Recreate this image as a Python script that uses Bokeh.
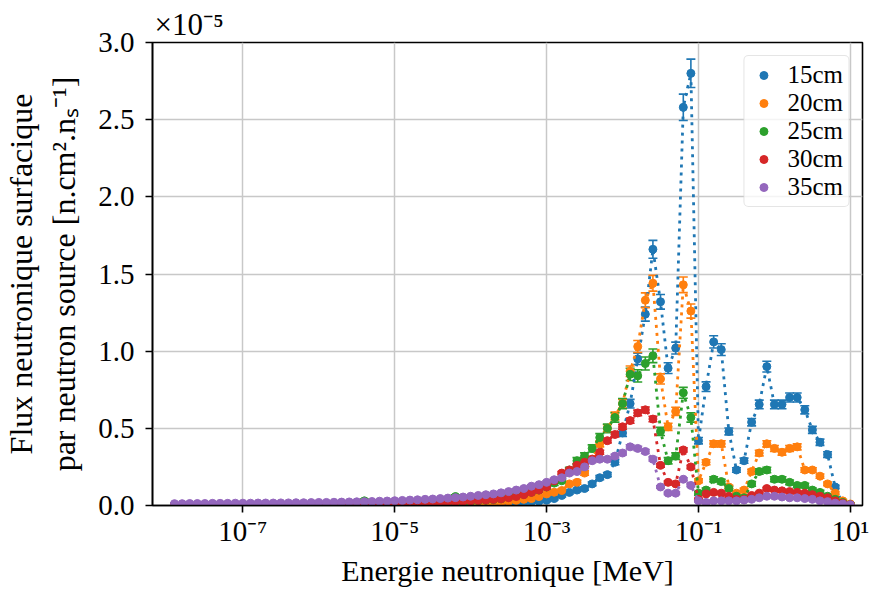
from bokeh.plotting import figure
from bokeh.models import (FixedTicker, CustomJSTickFormatter, Legend, LegendItem,
                          Range1d, PrintfTickFormatter)
from bokeh.embed import file_html
from bokeh.resources import INLINE

# ---------------- data (flux in units of 1e-5) ----------------
log_energy = [
    -7.9, -7.8, -7.7, -7.6, -7.5, -7.4, -7.3, -7.2, -7.1, -7.0,
    -6.9, -6.8, -6.7, -6.6, -6.5, -6.4, -6.3, -6.2, -6.1, -6.0,
    -5.9, -5.8, -5.7, -5.6, -5.5, -5.4, -5.3, -5.2, -5.1, -5.0,
    -4.9, -4.8, -4.7, -4.6, -4.5, -4.4, -4.3, -4.2, -4.1, -4.0,
    -3.9, -3.8, -3.7, -3.6, -3.5, -3.4, -3.3, -3.2, -3.1, -3.0,
    -2.9, -2.8, -2.7, -2.6, -2.5, -2.4, -2.3, -2.2, -2.1, -2.0,
    -1.9, -1.8, -1.7, -1.6, -1.5, -1.4, -1.3, -1.2, -1.1, -1.0,
    -0.9, -0.8, -0.7, -0.6, -0.5, -0.4, -0.3, -0.2, -0.1, 0.0,
    0.1, 0.2, 0.3, 0.4, 0.5, 0.6, 0.7, 0.8, 0.9, 1.0,
]

flux_15cm = [
    0.001, 0.001, 0.001, 0.001, 0.001, 0.001, 0.001, 0.001, 0.001, 0.001,
    0.001, 0.001, 0.001, 0.001, 0.001, 0.002, 0.002, 0.002, 0.002, 0.002,
    0.002, 0.002, 0.002, 0.002, 0.002, 0.003, 0.003, 0.003, 0.003, 0.003,
    0.003, 0.003, 0.004, 0.004, 0.004, 0.005, 0.005, 0.005, 0.006, 0.006,
    0.007, 0.008, 0.009, 0.011, 0.013, 0.016, 0.020, 0.024, 0.028, 0.034,
    0.045, 0.065, 0.085, 0.10, 0.11, 0.14, 0.18, 0.20, 0.28, 0.47,
    0.66, 0.95, 1.24, 1.66, 1.32, 0.89, 1.02, 2.58, 2.80, 0.42,
    0.77, 1.06, 1.01, 0.48, 0.23, 0.29, 0.54, 0.655, 0.90, 0.655,
    0.655, 0.70, 0.70, 0.62, 0.49, 0.41, 0.33, 0.12, 0.01, 0.0,
]
flux_20cm = [
    0.001, 0.001, 0.001, 0.001, 0.001, 0.001, 0.002, 0.002, 0.002, 0.002,
    0.002, 0.002, 0.002, 0.002, 0.002, 0.003, 0.003, 0.003, 0.003, 0.003,
    0.003, 0.004, 0.004, 0.004, 0.004, 0.005, 0.005, 0.005, 0.006, 0.006,
    0.006, 0.007, 0.007, 0.008, 0.008, 0.009, 0.010, 0.011, 0.012, 0.014,
    0.015, 0.017, 0.019, 0.022, 0.027, 0.033, 0.040, 0.045, 0.058, 0.075,
    0.086, 0.097, 0.14, 0.15, 0.21, 0.30, 0.40, 0.50, 0.58, 0.66,
    0.87, 1.03, 1.33, 1.44, 0.82, 0.51, 0.61, 1.43, 1.26, 0.16,
    0.28, 0.40, 0.40, 0.12, 0.08, 0.10, 0.22, 0.34, 0.40, 0.37,
    0.345, 0.37, 0.38, 0.23, 0.23, 0.19, 0.14, 0.08, 0.03, 0.01,
]
flux_25cm = [
    0.002, 0.002, 0.002, 0.002, 0.002, 0.003, 0.003, 0.003, 0.003, 0.003,
    0.003, 0.003, 0.004, 0.004, 0.004, 0.004, 0.005, 0.005, 0.005, 0.005,
    0.006, 0.006, 0.006, 0.007, 0.007, 0.030, 0.008, 0.008, 0.009, 0.009,
    0.010, 0.011, 0.011, 0.012, 0.013, 0.014, 0.015, 0.058, 0.019, 0.024,
    0.030, 0.034, 0.038, 0.043, 0.054, 0.062, 0.072, 0.086, 0.10, 0.12,
    0.145, 0.16, 0.23, 0.29, 0.32, 0.37, 0.44, 0.50, 0.57, 0.66,
    0.85, 0.84, 0.92, 0.97, 0.48, 0.29, 0.32, 0.73, 0.57, 0.08,
    0.10, 0.17, 0.155, 0.11, 0.06, 0.05, 0.14, 0.22, 0.23, 0.17,
    0.17, 0.15, 0.13, 0.13, 0.10, 0.085, 0.06, 0.04, 0.02, 0.005,
]
flux_30cm = [
    0.003, 0.003, 0.003, 0.003, 0.004, 0.004, 0.004, 0.004, 0.004, 0.005,
    0.005, 0.005, 0.005, 0.006, 0.006, 0.006, 0.007, 0.007, 0.007, 0.008,
    0.008, 0.009, 0.009, 0.010, 0.011, 0.011, 0.012, 0.013, 0.014, 0.015,
    0.016, 0.017, 0.018, 0.019, 0.020, 0.022, 0.023, 0.025, 0.027, 0.029,
    0.032, 0.035, 0.039, 0.043, 0.050, 0.058, 0.070, 0.085, 0.10, 0.12,
    0.16, 0.21, 0.23, 0.26, 0.28, 0.30, 0.345, 0.42, 0.46, 0.51,
    0.55, 0.60, 0.62, 0.56, 0.26, 0.15, 0.14, 0.36, 0.25, 0.04,
    0.075, 0.085, 0.08, 0.06, 0.04, 0.04, 0.065, 0.08, 0.11, 0.10,
    0.095, 0.09, 0.085, 0.08, 0.07, 0.06, 0.05, 0.03, 0.015, 0.005,
]
flux_35cm = [
    0.012, 0.012, 0.013, 0.013, 0.013, 0.014, 0.014, 0.014, 0.015, 0.015,
    0.015, 0.016, 0.016, 0.016, 0.017, 0.017, 0.018, 0.018, 0.019, 0.020,
    0.020, 0.021, 0.022, 0.023, 0.024, 0.025, 0.026, 0.028, 0.029, 0.031,
    0.033, 0.035, 0.037, 0.040, 0.042, 0.045, 0.048, 0.051, 0.055, 0.060,
    0.065, 0.070, 0.075, 0.082, 0.090, 0.10, 0.11, 0.125, 0.135, 0.15,
    0.167, 0.18, 0.21, 0.22, 0.25, 0.29, 0.30, 0.30, 0.32, 0.34,
    0.38, 0.37, 0.35, 0.30, 0.12, 0.08, 0.08, 0.17, 0.13, 0.03,
    0.02, 0.03, 0.03, 0.03, 0.03, 0.035, 0.04, 0.05, 0.06, 0.06,
    0.055, 0.05, 0.05, 0.045, 0.04, 0.03, 0.025, 0.015, 0.01, 0.005,
]

series_labels = ["15cm", "20cm", "25cm", "30cm", "35cm"]
series_values = [flux_15cm, flux_20cm, flux_25cm, flux_30cm, flux_35cm]
colors = ["#1f77b4", "#ff7f0e", "#2ca02c", "#d62728", "#9467bd"]
# uncertainty: relative part + absolute floor
rel_err = [0.03, 0.03, 0.035, 0.02, 0.02]
abs_err = [0.008, 0.008, 0.010, 0.006, 0.006]

x_ticks = [1e-7, 1e-5, 1e-3, 1e-1, 1e1]
y_ticks = [0.0, 0.5, 1.0, 1.5, 2.0, 2.5, 3.0]
x_limits_log = [-8.19, 1.16]
y_limits = [0.0, 3.0]
scale_text = "\u00d710\u207b\u2075"

FONT = "Liberation Serif"

energy = [10 ** v for v in log_energy]

p = figure(width=871, height=589, x_axis_type="log",
           x_range=Range1d(10 ** x_limits_log[0], 10 ** x_limits_log[1]),
           y_range=Range1d(y_limits[0], y_limits[1]),
           output_backend="svg", toolbar_location=None,
           title=scale_text,
           min_border_left=150, min_border_right=9,
           min_border_top=42, min_border_bottom=84)

p.background_fill_color = "white"
p.border_fill_color = "white"
p.outline_line_color = "black"
p.outline_line_width = 1.6
p.outline_line_alpha = 1.0

# scale factor shown as a left-aligned title just above the frame
p.title.text_font = FONT
p.title.text_font_size = "31px"
p.title.text_font_style = "normal"
p.title.text_color = "black"
p.title.align = "left"
p.title.offset = 2
p.title.standoff = 1
p.title.vertical_align = "bottom"

p.xaxis.ticker = FixedTicker(ticks=x_ticks, minor_ticks=[])
p.yaxis.ticker = FixedTicker(ticks=y_ticks, minor_ticks=[])
p.xaxis.formatter = CustomJSTickFormatter(code=r"""
const sup = {"-": "\u207b", "0": "\u2070", "1": "\u00b9", "2": "\u00b2", "3": "\u00b3",
             "4": "\u2074", "5": "\u2075", "6": "\u2076", "7": "\u2077", "8": "\u2078", "9": "\u2079"};
const e = Math.round(Math.log10(tick));
return "10" + String(e).split("").map(c => sup[c]).join("");
""")
p.yaxis.formatter = PrintfTickFormatter(format="%.1f")

for ax in (p.xaxis, p.yaxis):
    ax.axis_line_color = "black"
    ax.axis_line_width = 1.6
    ax.major_tick_line_color = "black"
    ax.major_tick_line_width = 1.6
    ax.major_tick_out = 7
    ax.major_tick_in = 0
    ax.minor_tick_line_color = None
    ax.major_label_text_font = FONT
    ax.major_label_text_font_size = "29px"
    ax.major_label_text_color = "black"
    ax.axis_label_text_font = FONT
    ax.axis_label_text_font_style = "normal"
    ax.axis_label_text_color = "black"

p.xaxis.axis_label = "Energie neutronique [MeV]"
p.xaxis.axis_label_text_font_size = "30px"
p.xaxis.major_label_standoff = 2
p.xaxis.axis_label_standoff = 4
p.yaxis.axis_label = "Flux neutronique surfacique\npar neutron source [n.cm\u00b2.n\u209b\u207b\u00b9]"
p.yaxis.axis_label_text_font_size = "32px"
p.yaxis.major_label_standoff = 11
p.yaxis.axis_label_standoff = 13

for g in (p.xgrid, p.ygrid):
    g.grid_line_color = "#c8c8c8"
    g.grid_line_width = 1.5
p.xgrid.ticker = FixedTicker(ticks=x_ticks)
p.ygrid.ticker = FixedTicker(ticks=y_ticks)

# error bars first (matplotlib draws bars below the data lines)
for vals, c, re, ae in zip(series_values, colors, rel_err, abs_err):
    lo = [v - (re * v + ae) for v in vals]
    hi = [v + (re * v + ae) for v in vals]
    p.segment(x0=energy, y0=lo, x1=energy, y1=hi, line_color=c, line_width=1.6)
    p.scatter(x=energy, y=lo, marker="dash", size=9, line_color=c, line_width=1.6)
    p.scatter(x=energy, y=hi, marker="dash", size=9, line_color=c, line_width=1.6)

legend_items = []
for lab, vals, c in zip(series_labels, series_values, colors):
    p.line(x=energy, y=vals, line_color=c, line_width=2.8, line_dash="3 5")
    r = p.scatter(x=energy, y=vals, marker="circle", size=8, fill_color=c,
                  line_color=c, line_width=1)
    legend_items.append(LegendItem(label=lab, renderers=[r]))

legend = Legend(items=legend_items, location="top_right")
legend.margin = 13
legend.padding = 5
legend.spacing = 0
legend.glyph_width = 28
legend.glyph_height = 20
legend.label_standoff = 10
legend.label_text_font = FONT
legend.label_text_font_size = "25px"
legend.label_text_color = "black"
legend.border_line_color = "#cccccc"
legend.border_line_width = 1.5
legend.background_fill_color = "white"
legend.background_fill_alpha = 0.8
if "border_radius" in legend.properties():
    legend.border_radius = 5
p.add_layout(legend)

open("out.html", "w").write(file_html(p, INLINE))
